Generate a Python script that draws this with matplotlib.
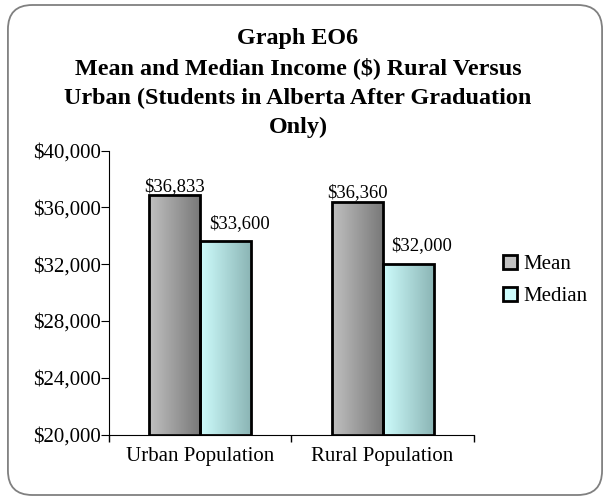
import numpy as np
import matplotlib.pyplot as plt
from matplotlib.patches import FancyBboxPatch
from matplotlib.ticker import FuncFormatter

categories = ['Urban Population', 'Rural Population']
mean_vals = [36833, 36360]
median_vals = [33600, 32000]
series = ['Mean', 'Median']

plt.rcParams['font.family'] = ['Liberation Serif', 'DejaVu Serif']

fig = plt.figure(figsize=(6.1, 5.0), dpi=100)
ax = fig.add_axes([0.1787, 0.131, 0.598, 0.568])

# rounded chart border
fig.patches.append(FancyBboxPatch((0.013, 0.01), 0.974, 0.98,
                                  boxstyle='round,pad=0,rounding_size=0.04',
                                  mutation_aspect=610 / 500,
                                  transform=fig.transFigure, fill=False,
                                  edgecolor='#808080', linewidth=1.3))

base = 20000
x = np.arange(len(categories))
w = 0.28
bars_mean = ax.bar(x - w / 2, np.array(mean_vals) - base, w, bottom=base,
                   color='#b0b0b0', edgecolor='black', linewidth=2,
                   label=series[0], zorder=3)
bars_med = ax.bar(x + w / 2, np.array(median_vals) - base, w, bottom=base,
                  color='#c8f8f8', edgecolor='black', linewidth=2,
                  label=series[1], zorder=3)

leg = ax.legend(loc='center left', bbox_to_anchor=(0.808, 0.439),
                bbox_transform=fig.transFigure, frameon=False, borderpad=0,
                fontsize=15, handlelength=0.67, handleheight=0.67,
                handletextpad=0.3, labelspacing=0.63)
for h, fc in zip(leg.legend_handles, ['#c0c0c0', '#ccfcfc']):
    h.set_linewidth(2)
    h.set_facecolor(fc)

# horizontal gradient fill clipped to each bar
grad = np.linspace(0, 1, 64).reshape(1, -1)
def shade(bars, c0, c1):
    c0 = np.array(c0) / 255.0
    c1 = np.array(c1) / 255.0
    img = c0[None, None, :] * (1 - grad[..., None]) + c1[None, None, :] * grad[..., None]
    for b in bars:
        bx, by = b.get_x(), b.get_y()
        im = ax.imshow(img, extent=[bx, bx + b.get_width(), by, by + b.get_height()],
                       aspect='auto', zorder=2.5, interpolation='bilinear')
        im.set_clip_path(b)
        b.set_facecolor('none')

shade(bars_mean, (192, 192, 192), (120, 120, 120))
shade(bars_med, (206, 252, 252), (138, 180, 180))

for b, v in zip(bars_mean, mean_vals):
    ax.annotate('${:,}'.format(v), (b.get_x() + b.get_width() / 2, v),
                xytext=(0, 3.4), textcoords='offset points',
                ha='center', va='baseline', fontsize=13.4)
for b, v in zip(bars_med, median_vals):
    ax.annotate('${:,}'.format(v), (b.get_x() + b.get_width() / 2, v),
                xytext=(10, 9.9), textcoords='offset points',
                ha='center', va='baseline', fontsize=13.4)

ax.set_xlim(-0.5, 1.5)
ax.set_ylim(20000, 40000)
ax.set_yticks(range(20000, 40001, 4000))
ax.yaxis.set_major_formatter(FuncFormatter(lambda v, p: '${:,.0f}'.format(v)))
ax.set_xticks([-0.5, 0.5, 1.5])
ax.set_xticklabels([])
ax.set_xticks(x, minor=True)
ax.set_xticklabels(categories, minor=True)
ax.tick_params(axis='x', which='minor', length=0, labelsize=15, pad=9)
ax.tick_params(axis='x', which='major', length=5, direction='out', width=1)
ax.tick_params(axis='y', length=5.5, direction='out', labelsize=15, pad=0.5)
for s in ['top', 'right']:
    ax.spines[s].set_visible(False)

fig.text(0.4885, 1 - 132.7 / 500,
         'Graph EO6\nMean and Median Income ($) Rural Versus\n'
         'Urban (Students in Alberta After Graduation\nOnly)',
         ha='center', va='baseline', fontsize=17.4, fontweight='bold',
         linespacing=1.49)

fig.savefig('out.png', dpi=100)
